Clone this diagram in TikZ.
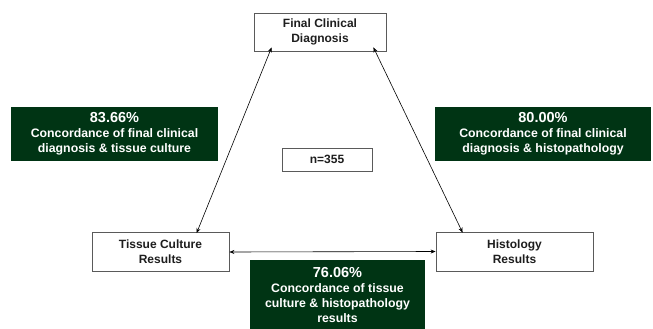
\documentclass[tikz,border=0pt]{standalone}
\usepackage{fontspec}
\setmainfont{Liberation Sans}
\usetikzlibrary{arrows.meta}
\definecolor{dkgreen}{RGB}{0,52,20}
\definecolor{boxline}{RGB}{90,90,90}
\definecolor{txt}{RGB}{30,30,30}
\begin{document}
\begin{tikzpicture}[x=1pt,y=-1pt,
  wbox/.style={draw=boxline,line width=0.8pt,fill=white,rectangle,inner sep=0pt,
    align=center,font=\fontsize{12}{15}\selectfont\bfseries,text=txt},
  gbox/.style={fill=dkgreen,rectangle,inner sep=0pt,align=center,text=white,
    font=\fontsize{12.3}{15}\selectfont\bfseries},
  ttl/.style={font=\fontsize{14.5}{15}\selectfont\bfseries},
  arr/.style={line width=0.6pt,{Stealth[length=5pt,width=4pt]}-{Stealth[length=5pt,width=4pt]}}]
\useasboundingbox (0,0) rectangle (653,329);
\node[wbox,minimum width=132pt,minimum height=38pt] (final) at (320,32) {Final Clinical\\Diagnosis};
\node[wbox,minimum width=137pt,minimum height=39pt] (tc) at (160.5,252) {Tissue Culture\\Results};
\node[wbox,minimum width=157pt,minimum height=39pt] (hist) at (514.5,251.5) {Histology\\Results};
\node[wbox,minimum width=90pt,minimum height=23pt] (n) at (327,159.5) {n=355};
\node[gbox,minimum width=207pt,minimum height=54pt] (g1) at (114.5,134) {{\fontsize{14.5}{15}\selectfont 83.66\%}\\Concordance of final clinical\\diagnosis \& tissue culture};
\node[gbox,minimum width=216pt,minimum height=54pt] (g2) at (543,134) {{\fontsize{14.5}{15}\selectfont 80.00\%}\\Concordance of final clinical\\diagnosis \& histopathology};
\node[gbox,minimum width=175pt,minimum height=69pt] (g3) at (337.5,294.5) {{\fontsize{14.5}{15}\selectfont 76.06\%}\\Concordance of tissue\\culture \& histopathology\\results};
\draw[arr] ([xshift=18pt,yshift=4pt]final.south west) -- ([xshift=105pt,yshift=-1pt]tc.north west);
\draw[arr] ([xshift=-13pt,yshift=4pt]final.south east) -- ([xshift=27pt,yshift=-1pt]hist.north west);
\draw[arr] (tc.east) -- (hist.west);
\end{tikzpicture}
\end{document}
